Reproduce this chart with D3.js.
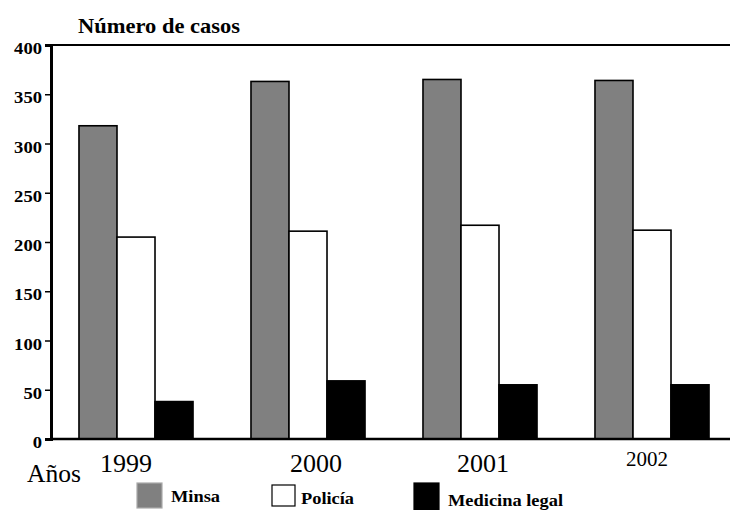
<!DOCTYPE html>
<html><head><meta charset="utf-8">
<script src="https://cdn.jsdelivr.net/npm/d3@7"></script>
<style>body{margin:0;background:#fff}svg{display:block}</style>
</head><body>
<svg id="c" width="730" height="510"></svg>
<script>
const years = ["1999","2000","2001","2002"];
const seriesNames = ["Minsa","Policía","Medicina legal"];
const minsa = [318, 363, 365, 364];
const policia = [205, 211, 217, 212];
const medicina = [38, 59, 55, 55];
const yTicks = [0,50,100,150,200,250,300,350,400];

const colors = ["#808080","#ffffff","#000000"];
const values = [minsa, policia, medicina];
const svg = d3.select("#c");
const serif = "'Liberation Serif','Times New Roman',serif";

const y = d3.scaleLinear().domain([0,400]).range([439,45]);
const x0 = d3.scaleBand().domain(years).range([50,738]).paddingInner(0.337).paddingOuter(0.1685);
const x1 = d3.scaleBand().domain(seriesNames).range([0, x0.bandwidth()]);

// top frame line
svg.append("line").attr("x1",50).attr("x2",730).attr("y1",y(400)).attr("y2",y(400))
  .attr("stroke","#000").attr("stroke-width",2);

// bars
years.forEach((yr,i)=>{
  const g = svg.append("g").attr("transform",`translate(${x0(yr)},0)`);
  seriesNames.forEach((s,j)=>{
    g.append("rect").attr("x",x1(s)).attr("width",x1.bandwidth())
      .attr("y",y(values[j][i])).attr("height",y(0)-y(values[j][i]))
      .attr("fill",colors[j]).attr("stroke","#000").attr("stroke-width",1.6);
  });
});

// bottom axis line
svg.append("line").attr("x1",50).attr("x2",730).attr("y1",y(0)).attr("y2",y(0))
  .attr("stroke","#000").attr("stroke-width",2.5);

// y axis
const ya = svg.append("g").attr("transform","translate(51,0)")
  .call(d3.axisLeft(y).tickValues(yTicks).tickSize(6).tickPadding(3));
ya.select(".domain").attr("stroke-width",3);
ya.selectAll(".tick line").attr("stroke-width",1.5);
ya.selectAll(".tick text").attr("font-family",serif).attr("font-weight","bold")
  .attr("font-size",16.5).attr("fill","#000").attr("dy","0.65em").attr("y",-2)
  .attr("textLength",d=>String(d).length*9.3).attr("lengthAdjust","spacingAndGlyphs");

// title
svg.append("text").attr("x",78).attr("y",33).attr("font-family",serif)
  .attr("font-weight","bold").attr("font-size",22)
  .attr("textLength",162).attr("lengthAdjust","spacingAndGlyphs").text("Número de casos");

// year labels
const yrOffsets = [-10, 8, 3, -5];
const yrSizes = [26, 26, 26, 21];
const yrBase = [472, 472, 472, 466];
years.forEach((yr,i)=>{
  svg.append("text").attr("x",x0(yr)+x0.bandwidth()/2+yrOffsets[i]).attr("y",yrBase[i])
    .attr("text-anchor","middle").attr("font-family",serif).attr("font-size",yrSizes[i]).text(yr);
});
svg.append("text").attr("x",27).attr("y",482).attr("font-family",serif).attr("font-size",25)
  .attr("textLength",54).attr("lengthAdjust","spacingAndGlyphs").text("Años");

// legend
const legX = [137, 272, 414];
const legBox = [[483,25,25],[485,23,21],[483,25,27]];
const legTextX = [171, 301, 448];
const legTextY = [502, 504, 506];
const legTextW = [49, 53, 115];
seriesNames.forEach((s,j)=>{
  svg.append("rect").attr("x",legX[j]).attr("y",legBox[j][0]).attr("width",legBox[j][1]).attr("height",legBox[j][2])
    .attr("fill",colors[j]).attr("stroke", j===0 ? "#aaa" : "#000").attr("stroke-width",1.2);
  svg.append("text").attr("x",legTextX[j]).attr("y",legTextY[j]).attr("font-family",serif)
    .attr("font-weight","bold").attr("font-size",17)
    .attr("textLength",legTextW[j]).attr("lengthAdjust","spacingAndGlyphs").text(s);
});
</script>
</body></html>
